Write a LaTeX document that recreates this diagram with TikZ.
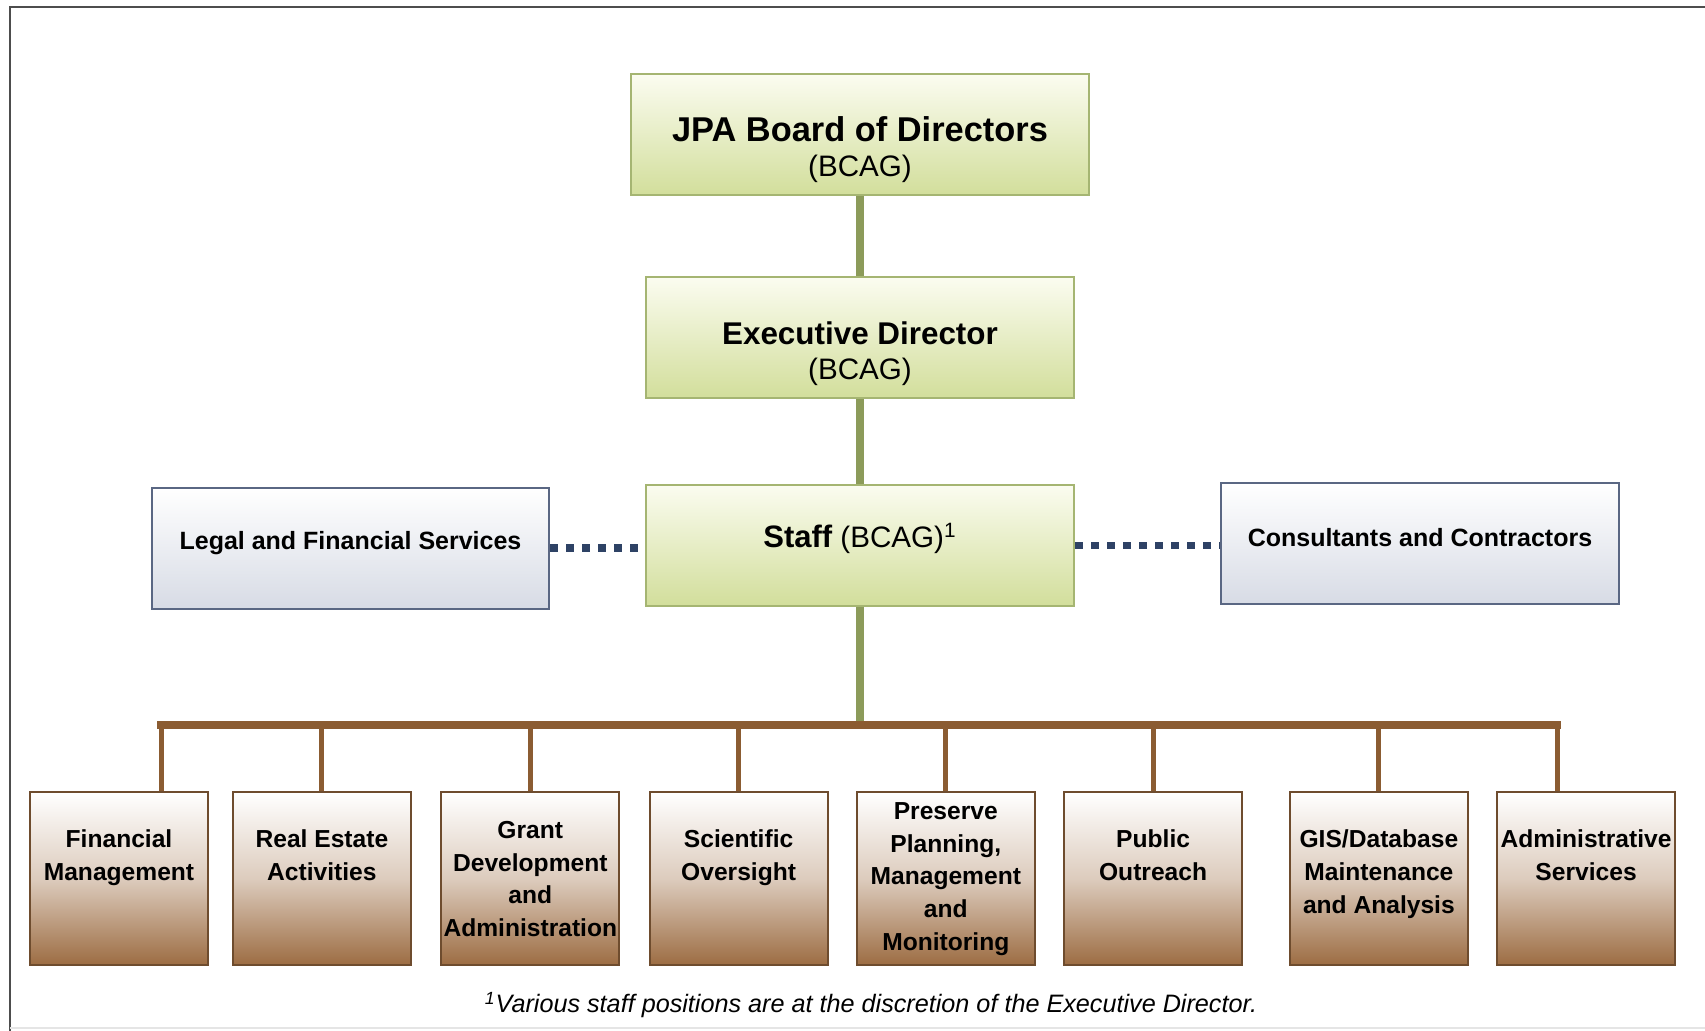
\documentclass[tikz,border=0pt]{standalone}
\usepackage{fontspec}
\setmainfont{Liberation Sans}
\usepackage{xcolor}
\usepackage{tikz}
\usetikzlibrary{positioning,calc}

\definecolor{boardtop}{HTML}{FBFCF0}
\definecolor{boardbot}{HTML}{D2DE9B}
\definecolor{boardedge}{HTML}{A5B572}
\definecolor{boardgreen}{HTML}{8C9B5A}
\definecolor{svcbot}{HTML}{D7DBE5}
\definecolor{svcedge}{HTML}{5A6783}
\definecolor{dotnavy}{HTML}{2E4265}
\definecolor{unitbot}{HTML}{9C6C42}
\definecolor{unitedge}{HTML}{6E4C2E}
\definecolor{busbrown}{HTML}{8B5C32}
\definecolor{framegray}{HTML}{4D4D4D}

\begin{document}
\begin{tikzpicture}[x=0.5pt, y=-0.5pt, node distance=14pt]

% Define block styles
\tikzstyle{boardbox} = [draw=boardedge, line width=1pt, top color=boardtop, bottom color=boardbot, minimum width=214pt, minimum height=60.5pt, inner sep=0pt, align=center, font=\fontsize{14.8}{17.5}\selectfont]
\tikzstyle{svcbox} = [draw=svcedge, line width=1pt, top color=white, bottom color=svcbot, minimum width=199pt, minimum height=60.5pt, inner sep=0pt, font=\fontsize{12.5}{15}\selectfont\bfseries]
\tikzstyle{unitbox} = [draw=unitedge, line width=1pt, top color=white, bottom color=unitbot, middle color=unitbot!35, minimum width=89pt, minimum height=86.5pt, inner sep=0pt, align=center, font=\fontsize{12.3}{16.3}\selectfont\bfseries]
\tikzstyle{greenlink} = [draw=boardgreen, line width=4pt]
\tikzstyle{dotlink} = [draw=dotnavy, line width=3.75pt, dash pattern=on 3.75pt off 4.25pt]
\tikzstyle{busline} = [draw=busbrown, line width=4pt, line cap=rect]
\tikzstyle{dropline} = [draw=busbrown, line width=2.5pt]

\useasboundingbox (0,0) rectangle (1705,1031);

% Frame
\draw[framegray, line width=1pt] (10,1031) -- (10,7) -- (1705,7);
\draw[gray!20, line width=1pt] (10,1028) -- (1705,1028);

% Nodes
\node[boardbox, minimum width=229pt] (jpa) at (860,135) {\rule{0pt}{27pt}{\fontsize{17.2}{17.5}\selectfont\bfseries JPA Board of Directors}\\(BCAG)};
\node[boardbox, below=39.9pt of jpa] (exec) {\rule{0pt}{27pt}{\fontsize{15.7}{17.5}\selectfont\bfseries Executive Director}\\(BCAG)};
\node[boardbox, below=42.3pt of exec] (staff) {{\fontsize{15.5}{17.5}\selectfont\bfseries Staff} (BCAG)\textsuperscript{1}\rule[-10pt]{0pt}{10pt}};
\node[svcbox, left=47.5pt of staff, minimum width=198.5pt, yshift=-1.4pt] (legal) {Legal and Financial Services\rule[-8pt]{0pt}{8pt}};
\node[svcbox, right=72.5pt of staff, yshift=0.8pt] (cons) {Consultants and Contractors\rule[-6pt]{0pt}{6pt}};
\node[coordinate, below=59pt of staff.south] (busy) {};

\node[unitbox] (fin) at (119,879) {Financial\\Management\\~\rule[-7.5pt]{0pt}{7.5pt}};
\node[unitbox, right=11.45pt of fin] (res) {Real Estate\\Activities\\~\rule[-7.5pt]{0pt}{7.5pt}};
\node[unitbox, right=14.2pt of res] (grant) {Grant\\Development\\and\\Administration};
\node[unitbox, right=14.15pt of grant] (sci) {Scientific\\Oversight\\~\rule[-7.5pt]{0pt}{7.5pt}};
\node[unitbox, right=13.6pt of sci] (pres) {Preserve\\Planning,\\Management\\and\\Monitoring};
\node[unitbox, right=13.65pt of pres] (pub) {Public\\Outreach\\~\rule[-7.5pt]{0pt}{7.5pt}};
\node[unitbox, right=22.9pt of pub] (gis) {GIS/Database\\Maintenance\\and Analysis\rule[-7.5pt]{0pt}{7.5pt}};
\node[unitbox, right=13.6pt of gis] (adm) {Administrative\\Services\\~\rule[-7.5pt]{0pt}{7.5pt}};
\coordinate (finjoin) at ($(fin.north)+(21pt,0)$);
\coordinate (admjoin) at ($(adm.north)+(-14.5pt,0)$);

\node (note) at (871,1005) {\fontsize{12.6}{15}\selectfont\itshape\textsuperscript{1}Various staff positions are at the discretion of the Executive Director.};

% Connections
\draw[greenlink] (jpa) -- (exec);
\draw[greenlink] (exec) -- (staff);
\draw[greenlink] (staff) -- (busy);
\draw[dotlink] (legal.east) -- (legal.east -| staff.west);
\draw[dotlink] (staff.east) -- (staff.east -| cons.west);
\foreach \u in {res,grant,sci,pres,pub,gis}
  \draw[dropline] (\u.north) -- (\u.north |- busy);
\draw[dropline] (finjoin) -- (finjoin |- busy);
\draw[dropline] (admjoin) -- (admjoin |- busy);
\draw[busline] (finjoin |- busy) -- (admjoin |- busy);

\end{tikzpicture}
\end{document}
